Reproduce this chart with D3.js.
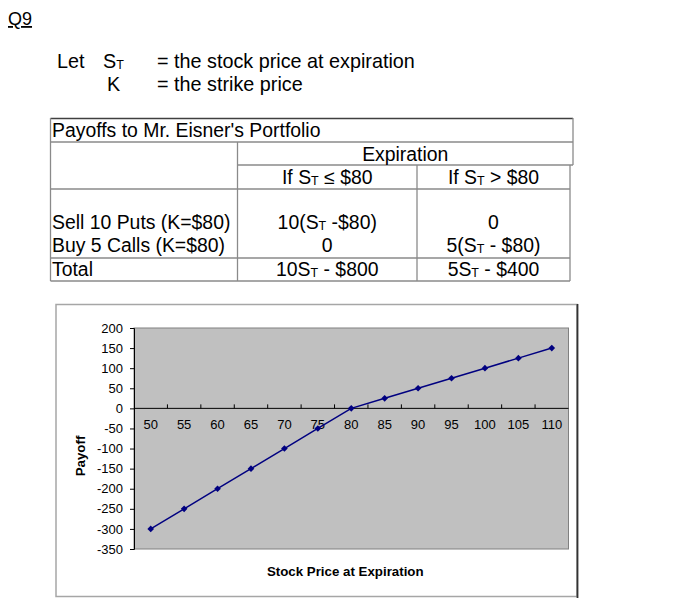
<!DOCTYPE html>
<html>
<head>
<meta charset="utf-8">
<script src="https://cdn.jsdelivr.net/npm/d3@7"></script>
<style>
  body { margin: 0; background: #fff; }
  svg { display: block; font-family: "Liberation Sans", Arial, Helvetica, sans-serif; }
</style>
</head>
<body>
<div id="chart"></div>
<script>
// stock price at expiration (categories) and portfolio payoff
var prices = [50, 55, 60, 65, 70, 75, 80, 85, 90, 95, 100, 105, 110];
var payoffs = [-300, -250, -200, -150, -100, -50, 0, 25, 50, 75, 100, 125, 150];
var yTicks = [200, 150, 100, 50, 0, -50, -100, -150, -200, -250, -300, -350];

// table text ("_T" = subscript T)
var tableTitle = "Payoffs to Mr. Eisner's Portfolio";
var tableGroup = "Expiration";
var tableCols = ["If S_T \u2264 $80", "If S_T > $80"];
var tableRows = [
  ["Sell 10 Puts (K=$80)", "10(S_T -$80)", "0"],
  ["Buy 5 Calls (K=$80)", "0", "5(S_T - $80)"],
  ["Total", "10S_T - $800", "5S_T - $400"]
];

var svg = d3.select("#chart").append("svg")
    .attr("width", 688)
    .attr("height", 615);

// write a string, turning "_T" into a small subscript T
function rich(sel, str, subSize) {
  var parts = str.split("_T");
  parts.forEach(function(p, i) {
    if (i > 0) {
      sel.append("tspan").attr("font-size", subSize).attr("dy", 1).text("T");
      sel.append("tspan").attr("dy", -1).text(p);
    } else {
      sel.append("tspan").text(p);
    }
  });
}

// ---- heading ----
svg.append("text").attr("x", 8).attr("y", 25)
    .attr("font-size", 18).attr("text-decoration", "underline").text("Q9");

var head = svg.append("g").attr("font-size", 19.8).attr("fill", "#000");
head.append("text").attr("x", 57).attr("y", 68).text("Let");
rich(head.append("text").attr("x", 103).attr("y", 68), "S_T", 12.5);
head.append("text").attr("x", 157).attr("y", 68).text("= the stock price at expiration");
head.append("text").attr("x", 107).attr("y", 91).text("K");
head.append("text").attr("x", 157).attr("y", 91).text("= the strike price");

// ---- table ----
var tb = svg.append("g").attr("font-size", 19.4);
var lineC = "#8a8a8a";
function hline(x1, x2, y, c) {
  tb.append("line").attr("x1", x1).attr("x2", x2).attr("y1", y).attr("y2", y)
    .attr("stroke", c || lineC).attr("stroke-width", 1.3);
}
function vline(x, y1, y2, c) {
  tb.append("line").attr("x1", x).attr("x2", x).attr("y1", y1).attr("y2", y2)
    .attr("stroke", c || lineC).attr("stroke-width", 1.3);
}
var tL = 50.5, tDiv = 237.5, tDiv2 = 417, tR1 = 573, tR2 = 570;
hline(tL, tR1, 118.5, "#404040");
hline(tL, tR1, 142);
hline(tDiv, tR1, 165);
hline(tL, tR2, 189);
hline(tL, tR2, 258);
hline(tL, tR2, 281);
vline(tL, 118, 281);
vline(tR1, 118, 165);
vline(tR2, 165, 281);
vline(tDiv, 142, 281);
vline(tDiv2, 165, 281);

tb.append("text").attr("x", 52).attr("y", 137).text(tableTitle);
tb.append("text").attr("x", (tDiv + tR1) / 2).attr("y", 161)
    .attr("text-anchor", "middle").text(tableGroup);
var colX = [(tDiv + tDiv2) / 2, (tDiv2 + tR2) / 2];
tableCols.forEach(function(c, i) {
  rich(tb.append("text").attr("x", colX[i]).attr("y", 184).attr("text-anchor", "middle"), c, 12.5);
});
var rowY = [229, 252, 276];
tableRows.forEach(function(r, i) {
  tb.append("text").attr("x", 52).attr("y", rowY[i]).text(r[0]);
  rich(tb.append("text").attr("x", colX[0]).attr("y", rowY[i]).attr("text-anchor", "middle"), r[1], 12.5);
  rich(tb.append("text").attr("x", colX[1]).attr("y", rowY[i]).attr("text-anchor", "middle"), r[2], 12.5);
});

// ---- chart ----
svg.append("rect").attr("x", 56).attr("y", 304.5).attr("width", 521).attr("height", 292)
    .attr("fill", "#fff").attr("stroke", "#a6a6a6").attr("stroke-width", 1.5);
svg.append("line").attr("x1", 577.5).attr("x2", 577.5).attr("y1", 304).attr("y2", 598)
    .attr("stroke", "#333").attr("stroke-width", 1.8);

var plotL = 134, plotR = 568.5, plotT = 328, plotB = 549;

var x = d3.scaleBand().domain(prices).range([plotL, plotR]);
var y = d3.scaleLinear().domain([-350, 200]).range([plotB, plotT]);

svg.append("rect").attr("x", plotL).attr("y", plotT)
    .attr("width", plotR - plotL).attr("height", plotB - plotT)
    .attr("fill", "#c0c0c0").attr("stroke", "#808080").attr("stroke-width", 1);

// y axis
var yAxis = svg.append("g").attr("transform", "translate(" + plotL + ",0)")
    .call(d3.axisLeft(y).tickValues(yTicks).tickSize(4).tickPadding(7)
      .tickFormat(function(d) { return String(d); }));
yAxis.select(".domain").attr("stroke", "#000");
yAxis.selectAll(".tick line").attr("stroke", "#000");
yAxis.selectAll("text").attr("font-size", 13).attr("fill", "#000")
    .attr("font-family", "'Liberation Sans', Arial, sans-serif");

// x axis at payoff 0, ticks between categories
var y0 = y(0);
var xAxis = svg.append("g");
xAxis.append("line").attr("x1", plotL).attr("x2", plotR).attr("y1", y0).attr("y2", y0)
    .attr("stroke", "#000").attr("stroke-width", 1);
xAxis.selectAll(".tk").data(prices.slice(1)).enter().append("line")
    .attr("x1", function(d) { return x(d); }).attr("x2", function(d) { return x(d); })
    .attr("y1", y0 - 4).attr("y2", y0)
    .attr("stroke", "#000");
xAxis.selectAll(".lb").data(prices).enter().append("text")
    .attr("x", function(d) { return x(d) + x.bandwidth() / 2; })
    .attr("y", y0 + 21)
    .attr("text-anchor", "middle").attr("font-size", 13)
    .text(function(d) { return d; });

// series
var pts = prices.map(function(p, i) { return [x(p) + x.bandwidth() / 2, y(payoffs[i])]; });
svg.append("path").datum(pts)
    .attr("d", d3.line())
    .attr("fill", "none").attr("stroke", "#000080").attr("stroke-width", 1.5);
svg.selectAll(".mk").data(pts).enter().append("path")
    .attr("transform", function(d) { return "translate(" + d[0] + "," + d[1] + ") rotate(45)"; })
    .attr("d", d3.symbol().type(d3.symbolSquare).size(22))
    .attr("fill", "#000080");

// axis titles
svg.append("text").attr("x", (plotL + plotR) / 2 - 6).attr("y", 576)
    .attr("text-anchor", "middle").attr("font-size", 13.3).attr("font-weight", "bold")
    .text("Stock Price at Expiration");
svg.append("text").attr("transform", "translate(85,456) rotate(-90)")
    .attr("text-anchor", "middle").attr("font-size", 13.3).attr("font-weight", "bold")
    .text("Payoff");
</script>
</body>
</html>
